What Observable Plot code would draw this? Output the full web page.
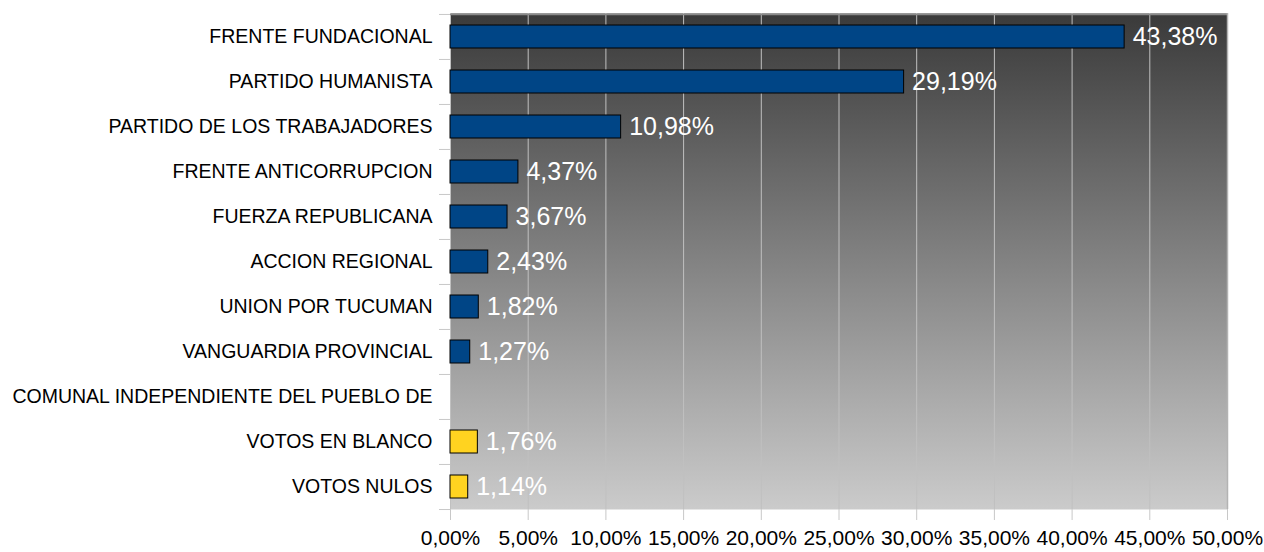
<!DOCTYPE html>
<html>
<head>
<meta charset="utf-8">
<script src="https://cdn.jsdelivr.net/npm/d3@7"></script>
<script src="https://cdn.jsdelivr.net/npm/@observablehq/plot@0.6"></script>
<style>
  html, body { margin: 0; padding: 0; background: #ffffff; }
  svg { display: block; font-family: "Liberation Sans", Arial, sans-serif; }
</style>
</head>
<body>
<div id="chart"></div>
<script>
const categories = [
  "FRENTE FUNDACIONAL",
  "PARTIDO HUMANISTA",
  "PARTIDO DE LOS TRABAJADORES",
  "FRENTE ANTICORRUPCION",
  "FUERZA REPUBLICANA",
  "ACCION REGIONAL",
  "UNION POR TUCUMAN",
  "VANGUARDIA PROVINCIAL",
  "COMUNAL INDEPENDIENTE DEL PUEBLO DE",
  "VOTOS EN BLANCO",
  "VOTOS NULOS"
];
const values = [43.38, 29.19, 10.98, 4.37, 3.67, 2.43, 1.82, 1.27, null, 1.76, 1.14];
const groups = ["party", "party", "party", "party", "party", "party", "party", "party", "party", "other", "other"];
const xTicks = [0, 5, 10, 15, 20, 25, 30, 35, 40, 45, 50];

const data = categories.map((c, i) => ({category: c, value: values[i], group: groups[i]}));
const bars = data.filter(d => d.value != null);
const fmt = v => v.toFixed(2).replace(".", ",") + "%";

const W = 1264, H = 552;
const mTop = 13, mBottom = 43, mLeft = 450, mRight = 37;
const band = (H - mTop - mBottom) / categories.length;

const plot = Plot.plot({
  width: W,
  height: H,
  marginTop: mTop,
  marginBottom: mBottom,
  marginLeft: mLeft,
  marginRight: mRight,
  style: {fontFamily: "'Liberation Sans', Arial, sans-serif", background: "transparent", overflow: "visible"},
  x: {domain: [0, 50], ticks: xTicks},
  y: {domain: categories, padding: 0},
  color: {domain: ["party", "other"], range: ["#004586", "#ffd320"]},
  marks: [
    Plot.frame({fill: "url(#bgGrad)", stroke: null}),
    Plot.gridX(xTicks, {stroke: "#c0c0c0", strokeOpacity: 1, strokeWidth: 1}),
    Plot.ruleY([categories[0]], {dy: -band / 2, stroke: "#8a8a8a", strokeWidth: 1.5}),
    Plot.ruleX([50], {stroke: "#b3b3b3", strokeWidth: 1.5}),
    Plot.barX(bars, {
      y: "category", x: "value", fill: "group",
      stroke: "#000000", strokeWidth: 1,
      insetTop: 11, insetBottom: 11
    }),
    Plot.text(bars, {
      y: "category", x: "value", text: d => fmt(d.value),
      dx: 8, textAnchor: "start", fill: "#ffffff", fontSize: 25
    }),
    Plot.axisX(xTicks, {
      tickFormat: fmt, tickSize: 11, tickPadding: 10, fontSize: 21,
      stroke: "#c8c8c8", fill: "#000000", label: null
    }),
    Plot.axisY({
      tickSize: 0, tickPadding: 18, fontSize: 19.5, fill: "#000000", label: null
    }),
    Plot.axisY({
      tickSize: 11, text: null, dy: -band / 2, stroke: "#c8c8c8", label: null
    }),
    Plot.axisY([categories[categories.length - 1]], {
      tickSize: 11, text: null, dy: band / 2, stroke: "#c8c8c8", label: null
    })
  ]
});

const svg = d3.select(plot);
const defs = svg.insert("defs", ":first-child");
const grad = defs.append("linearGradient")
  .attr("id", "bgGrad").attr("x1", 0).attr("y1", 0).attr("x2", 0).attr("y2", 1);
grad.append("stop").attr("offset", "0%").attr("stop-color", "#3a3a3a");
grad.append("stop").attr("offset", "100%").attr("stop-color", "#cbcbcb");

document.getElementById("chart").appendChild(plot);
</script>
</body>
</html>
